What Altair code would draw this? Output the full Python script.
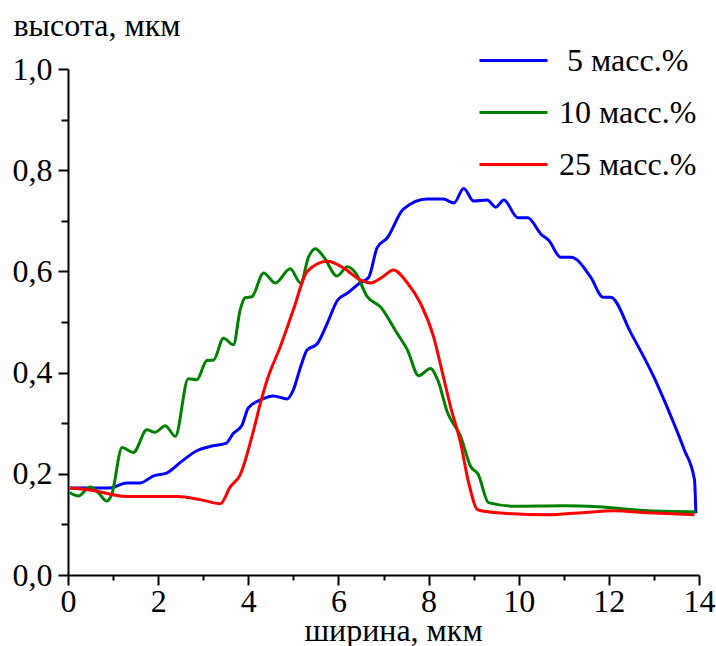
import altair as alt
import pandas as pd

# 5 масс.%
x5 = [0.04, 0.5, 0.93, 1.3, 1.6, 1.9, 2.2, 2.5, 2.87, 3.15, 3.5, 3.67, 3.86, 4.0, 4.27, 4.56, 4.86,
      5.0, 5.16, 5.3, 5.53, 5.75, 5.98, 6.2, 6.49, 6.67, 6.86, 7.09, 7.44, 7.97, 8.33, 8.56, 8.78,
      9.0, 9.3, 9.49, 9.67, 9.98, 10.2, 10.49, 10.67, 10.93, 11.16, 11.6, 11.87, 12.04, 12.49,
      13.0, 13.38, 13.67, 13.9, 13.93]
y5 = [0.172, 0.172, 0.172, 0.182, 0.182, 0.196, 0.202, 0.223, 0.246, 0.254, 0.26, 0.28, 0.296,
      0.33, 0.346, 0.354, 0.348, 0.366, 0.411, 0.444, 0.457, 0.497, 0.543, 0.557, 0.578, 0.588,
      0.647, 0.667, 0.723, 0.743, 0.743, 0.735, 0.764, 0.739, 0.741, 0.727, 0.741, 0.706, 0.706,
      0.674, 0.661, 0.628, 0.628, 0.588, 0.549, 0.549, 0.478, 0.391, 0.313, 0.248, 0.188, 0.122]

# 10 масс.%
x10 = [0.04, 0.23, 0.49, 0.67, 0.86, 0.97, 1.2, 1.45, 1.75, 1.93, 2.16, 2.38, 2.67, 2.86, 3.08,
       3.23, 3.45, 3.67, 3.82, 3.93, 4.08, 4.34, 4.6, 4.93, 5.16, 5.34, 5.49, 5.67, 5.97, 6.2,
       6.38, 6.64, 6.93, 7.3, 7.53, 7.78, 8.04, 8.2, 8.42, 8.71, 8.93, 9.1, 9.33, 9.9, 11.0,
       11.76, 12.87, 13.93]
y10 = [0.163, 0.156, 0.174, 0.163, 0.146, 0.159, 0.252, 0.242, 0.287, 0.282, 0.295, 0.274, 0.388,
       0.386, 0.424, 0.425, 0.468, 0.455, 0.524, 0.548, 0.55, 0.597, 0.577, 0.605, 0.577, 0.629,
       0.645, 0.629, 0.591, 0.609, 0.597, 0.55, 0.53, 0.478, 0.445, 0.394, 0.408, 0.386, 0.321,
       0.274, 0.215, 0.199, 0.143, 0.136, 0.137, 0.135, 0.127, 0.125]

# 25 масс.%
x25 = [0.04, 0.49, 1.3, 2.42, 2.93, 3.38, 3.6, 3.82, 4.12, 4.27, 4.42, 4.71, 5.0, 5.31, 5.75,
       6.11, 6.49, 6.71, 6.98, 7.22, 7.53, 7.82, 8.11, 8.33, 8.49, 8.71, 8.89, 9.09, 9.53, 10.64,
       11.38, 12.11, 12.87, 13.9]
y25 = [0.172, 0.168, 0.155, 0.155, 0.149, 0.141, 0.174, 0.198, 0.287, 0.34, 0.386, 0.451, 0.524,
       0.6, 0.62, 0.607, 0.583, 0.577, 0.589, 0.603, 0.577, 0.537, 0.471, 0.391, 0.332, 0.261,
       0.182, 0.129, 0.123, 0.119, 0.123, 0.127, 0.123, 0.119]

series = ["5 масс.%", "10 масс.%", "25 масс.%"]
colors = ["#0000FF", "#008000", "#FF0000"]

rows = []
for name, xs, ys in zip(series, [x5, x10, x25], [y5, y10, y25]):
    for i, (a, b) in enumerate(zip(xs, ys)):
        rows.append({"x": a, "y": b, "series": name, "i": i})
df = pd.DataFrame(rows)

FONT = "'Liberation Serif', 'Times New Roman', 'DejaVu Serif', serif"

x_vals = list(range(0, 15))
y_vals = [round(v * 0.1, 1) for v in range(0, 11)]

chart = alt.Chart(df).mark_line(strokeWidth=3, interpolate="monotone").encode(
    x=alt.X("x:Q", scale=alt.Scale(domain=[0, 14], nice=False, zero=False),
            axis=alt.Axis(values=x_vals, title="ширина, мкм", grid=False,
                          labelExpr="datum.value % 2 == 0 ? datum.label : ''",
                          tickSize={"expr": "datum.value % 2 == 0 ? 10 : 5"},
                          labelPadding=1, labelFlush=False,
                          titleX=325, titleY=65, titleBaseline="alphabetic",
                          titleAnchor="middle", titleAlign="center")),
    y=alt.Y("y:Q", scale=alt.Scale(domain=[0, 1.0], nice=False),
            axis=alt.Axis(values=y_vals, title="высота, мкм", grid=False,
                          labelExpr="round(datum.value*10) % 2 == 0 ? replace(format(datum.value, '.1f'), '.', ',') : ''",
                          tickSize={"expr": "round(datum.value*10) % 2 == 0 ? 10 : 7"},
                          labelPadding=6, labelFlush=False,
                          titleAngle=0, titleX=-55, titleY=-34, titleAlign="left",
                          titleBaseline="alphabetic")),
    color=alt.Color("series:N", scale=alt.Scale(domain=series, range=colors),
                    legend=alt.Legend(title=None, orient="none", legendX=410, legendY=-44,
                                      symbolType="stroke", symbolSize=4624, symbolStrokeWidth=3,
                                      labelFont=FONT, labelFontSize=32, labelColor="#000000",
                                      labelOffset=10, rowPadding=-19.5, padding=0,
                                      labelExpr="indexof(datum.value, '5 ') == 0 ? '\u200b\u2005' + datum.value : datum.value")),
    order="i:Q",
).properties(
    width=631, height=506,
    autosize=alt.AutoSizeParams(type="none"),
    padding={"left": 68, "top": 69, "right": 17, "bottom": 71},
).configure_view(stroke=None).configure_axis(
    labelFont=FONT, titleFont=FONT, labelFontSize=32, titleFontSize=32,
    labelColor="#000000", titleColor="#000000", titleFontWeight="normal",
    domainColor="#000000", tickColor="#000000", domainWidth=2, tickWidth=2,
)

chart.save("out.html", embed_options={"renderer": "svg", "actions": False})
